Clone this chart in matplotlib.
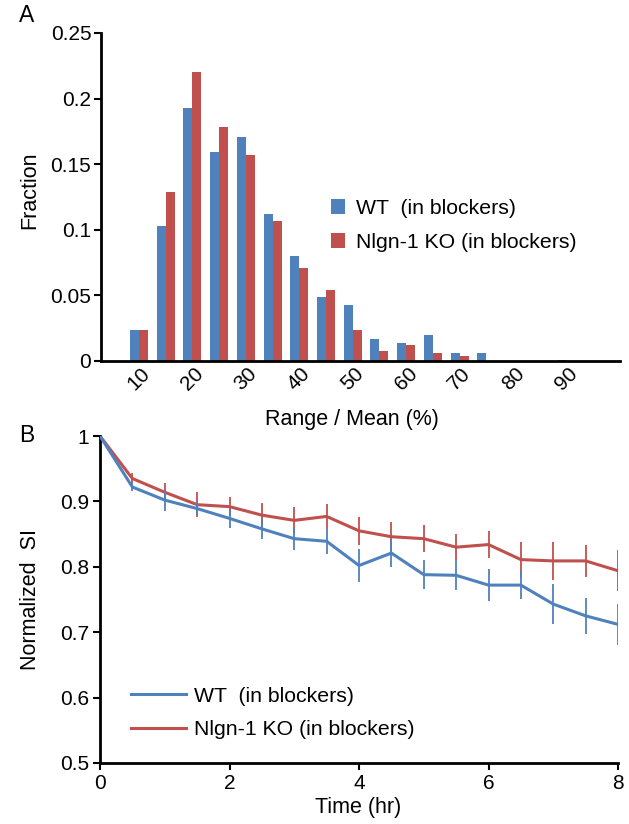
import numpy as np
import matplotlib
matplotlib.use("Agg")
import matplotlib.pyplot as plt
from matplotlib.lines import Line2D

plt.rcParams['font.family'] = ['Liberation Sans', 'DejaVu Sans']

# ---------------- Data ----------------
# Panel A: histogram of Range / Mean (%)
bins = [10, 15, 20, 25, 30, 35, 40, 45, 50, 55, 60, 65, 70, 75, 80, 85, 90, 95]
wt_frac = [0.024, 0.103, 0.193, 0.159, 0.171, 0.112, 0.080, 0.049, 0.043,
           0.017, 0.0137, 0.020, 0.006, 0.006, 0.0, 0.0, 0.0006, 0.0]
ko_frac = [0.024, 0.129, 0.220, 0.178, 0.157, 0.107, 0.071, 0.054, 0.024,
           0.0076, 0.012, 0.006, 0.004, 0.0, 0.0, 0.0, 0.0, 0.0]
bin_tick_labels = ['10', '20', '30', '40', '50', '60', '70', '80', '90']

# Panel B: normalized SI over time
time_hr = [0, 0.5, 1, 1.5, 2, 2.5, 3, 3.5, 4, 4.5, 5, 5.5, 6, 6.5, 7, 7.5, 8]
wt_si = [1.0, 0.922, 0.902, 0.889, 0.874, 0.858, 0.843, 0.839, 0.802, 0.821,
         0.788, 0.787, 0.772, 0.772, 0.743, 0.725, 0.712]
wt_err = [0, 0.006, 0.016, 0.010, 0.015, 0.015, 0.017, 0.019, 0.025, 0.022,
          0.022, 0.023, 0.024, 0.021, 0.031, 0.0275, 0.031]
ko_si = [1.0, 0.935, 0.914, 0.895, 0.892, 0.879, 0.871, 0.877, 0.855, 0.846,
         0.843, 0.830, 0.834, 0.811, 0.809, 0.809, 0.794]
ko_err = [0, 0.009, 0.014, 0.019, 0.014, 0.019, 0.021, 0.019, 0.021, 0.023,
          0.021, 0.020, 0.021, 0.0275, 0.029, 0.025, 0.031]

wt_label = 'WT  (in blockers)'
ko_label = 'Nlgn-1 KO (in blockers)'

BLUE = '#4F81BD'
RED = '#C0504D'

W, H = 629, 824
fig = plt.figure(figsize=(W / 100, H / 100), dpi=100)

def fx(x):
    return x / W

def fy(y):
    return 1 - y / H

TICK_FS = 15
LABEL_FS = 15.5
LEG_FS = 15.3

# ---------------- Panel A ----------------
axA = fig.add_axes([fx(101), fy(361), fx(620) - fx(101), fy(33) - fy(361)])
idx = np.arange(len(bins))
bw = 0.337
axA.bar(idx - bw / 2, wt_frac, width=bw, color=BLUE, linewidth=0, label=wt_label)
axA.bar(idx + bw / 2, ko_frac, width=bw, color=RED, linewidth=0, label=ko_label)
axA.set_xlim(-1.42, 18.0)
axA.set_ylim(0, 0.25)
axA.set_yticks([0, 0.05, 0.1, 0.15, 0.2, 0.25])
axA.set_yticklabels(['0', '0.05', '0.1', '0.15', '0.2', '0.25'], fontsize=TICK_FS)
tick_pos = [bins.index(int(t)) for t in bin_tick_labels]
axA.set_xticks(tick_pos)
axA.set_xticklabels(bin_tick_labels, rotation=45, fontsize=TICK_FS,
                    ha='center', va='top')
axA.tick_params(axis='x', length=0, pad=2)
axA.tick_params(axis='y', direction='out', length=5, width=1.5, pad=2)
for s in ['top', 'right']:
    axA.spines[s].set_visible(False)
for s in ['left', 'bottom']:
    axA.spines[s].set_linewidth(2)
axA.legend(loc='upper left', bbox_to_anchor=((322 - 101) / (620 - 101), 0.52),
           frameon=False, fontsize=LEG_FS, handlelength=0.7, handleheight=0.7,
           handletextpad=0.5, labelspacing=0.7, borderaxespad=0)
fig.text(fx(352), fy(420), 'Range / Mean (%)', fontsize=LABEL_FS, ha='center', va='center')
fig.text(fx(30), fy(190), 'Fraction', fontsize=LABEL_FS, ha='center', va='center', rotation=90)
fig.text(fx(27), fy(15), 'A', fontsize=16.5, ha='center', va='center')

# ---------------- Panel B ----------------
axB = fig.add_axes([fx(100), fy(763), fx(618) - fx(100), fy(436) - fy(763)])
axB.errorbar(time_hr, ko_si, yerr=ko_err, color=RED, lw=2.2, elinewidth=1.3,
             capsize=0, label=ko_label, zorder=2)
axB.errorbar(time_hr, wt_si, yerr=wt_err, color=BLUE, lw=2.2, elinewidth=1.3,
             capsize=0, label=wt_label, zorder=3)
axB.set_xlim(0, 8)
axB.set_ylim(0.5, 1.0)
axB.set_xticks([0, 2, 4, 6, 8])
axB.set_xticklabels(['0', '2', '4', '6', '8'], fontsize=TICK_FS)
axB.set_yticks([0.5, 0.6, 0.7, 0.8, 0.9, 1.0])
axB.set_yticklabels(['0.5', '0.6', '0.7', '0.8', '0.9', '1'], fontsize=TICK_FS)
axB.tick_params(direction='out', length=5, width=1.5, pad=3)
for s in ['top', 'right']:
    axB.spines[s].set_visible(False)
for s in ['left', 'bottom']:
    axB.spines[s].set_linewidth(2)
lh = [Line2D([], [], color=BLUE, lw=2.2), Line2D([], [], color=RED, lw=2.2)]
axB.legend(lh, [wt_label, ko_label], loc='upper left',
           bbox_to_anchor=((122 - 100) / (618 - 100), (763 - 678) / (763 - 436)),
           frameon=False, fontsize=LEG_FS, handlelength=2.6,
           handletextpad=0.4, labelspacing=0.7, borderaxespad=0)
fig.text(fx(358), fy(808), 'Time (hr)', fontsize=LABEL_FS, ha='center', va='center')
fig.text(fx(30), fy(600), 'Normalized  SI', fontsize=LABEL_FS, ha='center', va='center', rotation=90)
fig.text(fx(27), fy(435), 'B', fontsize=16.5, ha='center', va='center')

fig.savefig('out.png', dpi=100)
